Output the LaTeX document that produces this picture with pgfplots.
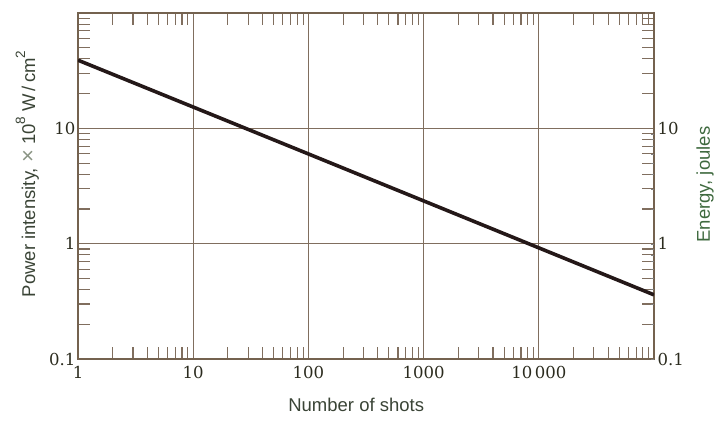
\documentclass[border=0pt]{standalone}
\usepackage{fontspec}
\usepackage{pgfplots}
\pgfplotsset{compat=1.18}
\newfontfamily\labelfont{Liberation Sans}
\newfontfamily\tickfont{DejaVu Serif}

\definecolor{gridc}{HTML}{806E5E}
\definecolor{framec}{HTML}{74624F}
\definecolor{ticktext}{HTML}{2B2B1E}
\definecolor{leftlab}{HTML}{3A4436}
\definecolor{timesc}{HTML}{8A9484}
\definecolor{rightlab}{HTML}{3F6A3F}
\definecolor{linec}{HTML}{241818}

\newcommand{\sps}[1]{\raisebox{0.55em}{\fontsize{13.5}{14}\selectfont #1}}

\begin{document}
\begin{tikzpicture}
\begin{axis}[
  xmode=log, ymode=log,
  scale only axis, width=576pt, height=346pt,
  xmin=1, xmax=1e5, ymin=0.1, ymax=100,
  ticklabel style={font=\tickfont\fontsize{16.5}{18}\selectfont, text=ticktext},
  axis line style={framec, line width=1.3pt},
  grid=major,
  major grid style={gridc, line width=1.2pt},
  tick align=inside,
  major tick length=0pt,
  minor tick length=12pt,
  every minor tick/.style={gridc, line width=1.1pt},
  xtick={1,10,100,1000,10000,100000},
  xticklabels={1,10,100,1000,10\kern0.15em000,},
  minor xtick={2,3,4,5,6,7,8,9,20,30,40,50,60,70,80,90,200,300,400,500,600,700,800,900,2000,3000,4000,5000,6000,7000,8000,9000,20000,30000,40000,50000,60000,70000,80000,90000},
  ytick={0.1,1,10,100},
  yticklabels={0.1,1,10,},
  minor ytick={0.2,0.3,0.4,0.5,0.6,0.7,0.8,0.9,2,3,4,5,6,7,8,9,20,30,40,50,60,70,80,90},
  yticklabel pos=left,
  xticklabel style={yshift=-4pt},
  yticklabel style={xshift=1pt},
  xlabel={\labelfont Number of shots},
  xlabel style={at={(axis description cs:0.483,-0.133)}, anchor=center,
    font=\fontsize{18.5}{20}\selectfont, text=leftlab},
  ylabel={\labelfont Power intensity, {\color{timesc}\fontsize{22}{22}\selectfont ×} 10\sps{8} W\,/\,cm\sps{2}},
  ylabel style={at={(axis description cs:-0.088,0.535)}, anchor=center,
    font=\fontsize{18.5}{20}\selectfont, text=leftlab},
]
  % fatigue line: intensity against number of shots
  \addplot[linec, line width=3.6pt] coordinates {
    (1,39) (10,15.3) (100,6.0) (1000,2.35) (10000,0.92) (100000,0.36)
  };
  \coordinate (sw) at (rel axis cs:0,0);
  \coordinate (ne) at (rel axis cs:1,1);
\end{axis}
% right-hand energy scale
\begin{axis}[
  xmode=log, ymode=log,
  scale only axis, width=576pt, height=346pt,
  xmin=1, xmax=1e5, ymin=0.1, ymax=100,
  ticklabel style={font=\tickfont\fontsize{16.5}{18}\selectfont, text=ticktext},
  axis x line=none,
  axis y line*=right,
  y axis line style={draw=none},
  major tick length=0pt,
  ytick={0.1,1,10},
  yticklabels={0.1,1,10},
  minor ytick={},
  ylabel={\labelfont Energy, joules},
  ylabel style={at={(axis description cs:1.0885,0.504)}, anchor=center,
    font=\fontsize{18.5}{20}\selectfont, text=rightlab},
]
  \addplot[draw=none] coordinates {(1,1)};
\end{axis}
\path ([shift={(-78pt,-79pt)}]sw) rectangle ([shift={(72pt,13pt)}]ne);
\end{tikzpicture}
\end{document}
